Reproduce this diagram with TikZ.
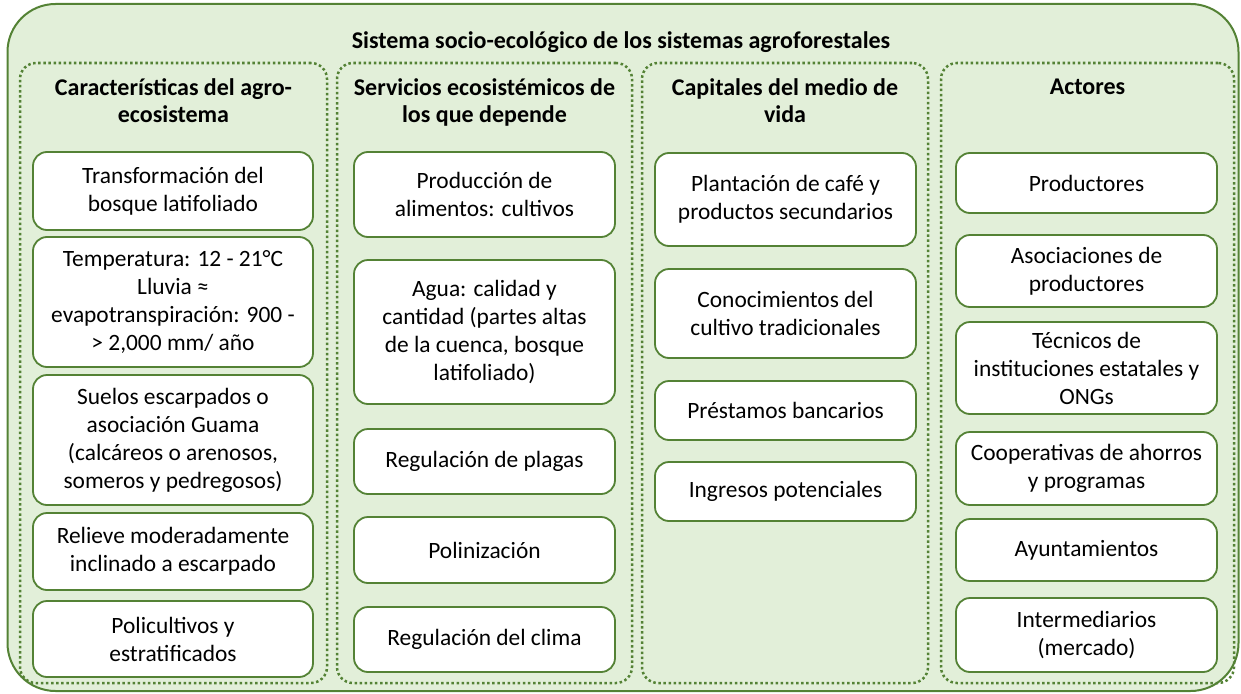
\documentclass[tikz,border=0pt]{standalone}
\usepackage{fontspec}
\setmainfont{Carlito}
\definecolor{verdeclaro}{HTML}{E2EFD9}
\definecolor{verdeosc}{HTML}{548235}
\tikzset{
  sistema/.style={draw=verdeosc, line width=2pt, fill=verdeclaro, rounded corners=48pt, inner sep=0pt},
  columna/.style={draw=verdeosc, line width=2.5pt, dash pattern=on 2.5pt off 2.6pt, rounded corners=16pt, inner sep=0pt},
  caja/.style={draw=verdeosc, line width=1.8pt, fill=white, rounded corners=14pt, inner sep=0pt, align=center,
    font=\fontsize{23.4}{28}\selectfont},
  titulo/.style={align=center, font=\fontsize{24}{27.5}\selectfont\bfseries}
}
\begin{document}
\begin{tikzpicture}[x=1pt,y=-1pt]
  \useasboundingbox (0,0) rectangle (1241,693);

  \node[sistema, minimum width=1231pt, minimum height=687pt] (sist) at (623,347.5) {};
  \node[titulo] (tsist) at (621,42) {Sistema socio-ecológico de los sistemas agroforestales};

  \begin{scope}[every node/.style={columna, minimum height=620pt}]
    \node[minimum width=307pt] (col1) at (173.5,373) {};
    \node[minimum width=295pt] (col2) at (484.5,373) {};
    \node[minimum width=286pt] (col3) at (785,373) {};
    \node[minimum width=293pt] (col4) at (1087.5,373) {};
  \end{scope}

  \begin{scope}[every node/.style={titulo, anchor=north}]
    \node (t1) at (173.5,75) {Características del agro-\\ecosistema};
    \node (t2) at (484.5,75) {Servicios ecosistémicos de\\los que depende};
    \node (t3) at (785,75) {Capitales del medio de\\vida};
    \node (t4) at (1087.5,75) {Actores};
  \end{scope}

  % caracteristicas
  \begin{scope}[every node/.style={caja, minimum width=280pt}]
    \node[minimum height=78pt] (a1) at (173,191) {Transformación del\\bosque latifoliado};
    \node[minimum height=130pt] (a2) at (173,302) {Temperatura: 12 - 21°C\\Lluvia ≈\\evapotranspiración: 900 -\\> 2,000 mm/ año};
    \node[minimum height=130pt] (a3) at (173,440) {Suelos escarpados o\\asociación Guama\\(calcáreos o arenosos,\\someros y pedregosos)};
    \node[minimum height=77pt] (a4) at (173,551.5) {Relieve moderadamente\\inclinado a escarpado};
    \node[minimum height=76pt] (a5) at (173,639) {Policultivos y\\estratificados};
  \end{scope}

  % servicios
  \begin{scope}[every node/.style={caja, minimum width=261pt}]
    \node[minimum height=85pt] (s1) at (484.5,194.5) {Producción de\\alimentos: cultivos};
    \node[minimum height=144pt] (s2) at (484.5,332) {Agua: calidad y\\cantidad (partes altas\\de la cuenca, bosque\\latifoliado)};
    \node[minimum height=65pt] (s3) at (484.5,461.5) {Regulación de plagas};
    \node[minimum height=66pt] (s4) at (484.5,550) {Polinización};
    \node[minimum height=65pt] (s5) at (484.5,639.5) {Regulación del clima};
  \end{scope}

  % capitales
  \begin{scope}[every node/.style={caja, minimum width=261pt}]
    \node[minimum height=93pt] (k1) at (785.5,199.5) {Plantación de café y\\productos secundarios};
    \node[minimum height=89pt] (k2) at (785.5,313.5) {Conocimientos del\\cultivo tradicionales};
    \node[minimum height=59pt] (k3) at (785.5,410.5) {Préstamos bancarios};
    \node[minimum height=59pt] (k4) at (785.5,491.5) {Ingresos potenciales};
  \end{scope}

  % actores
  \begin{scope}[every node/.style={caja, minimum width=261pt}]
    \node[minimum height=60pt] (p1) at (1086.5,183) {Productores};
    \node[minimum height=72pt] (p2) at (1086.5,271) {Asociaciones de\\productores};
    \node[minimum height=92pt] (p3) at (1086.5,368) {Técnicos de\\instituciones estatales y\\ONGs};
    \node[minimum height=73pt] (p4) at (1086.5,468.5) {Cooperativas de ahorros\\y programas};
    \node[minimum height=62pt] (p5) at (1086.5,550) {Ayuntamientos};
    \node[minimum height=74pt] (p6) at (1086.5,635) {Intermediarios\\(mercado)};
  \end{scope}

\end{tikzpicture}
\end{document}
